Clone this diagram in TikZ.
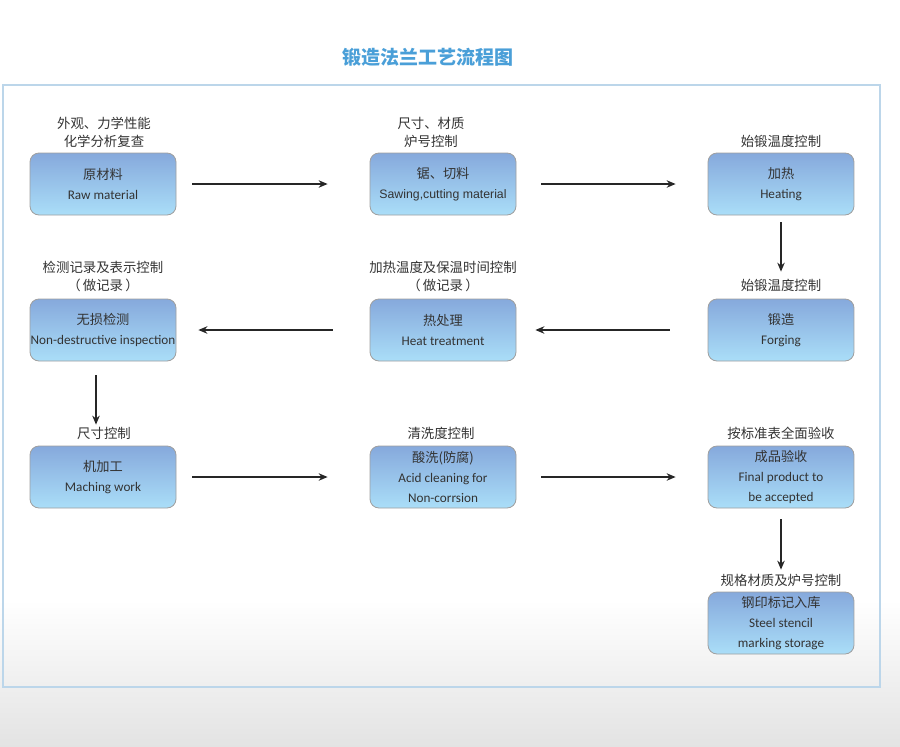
\documentclass[tikz,border=0pt]{standalone}
\usepackage{fontspec}
\setmainfont{Carlito}
\newfontfamily\cjk{Noto Sans CJK SC}
\newfontfamily\arial{Liberation Sans}
\usepackage{tikz}
\usetikzlibrary{arrows,arrows.meta,positioning,shapes,calc,backgrounds}
\definecolor{boxtop}{HTML}{86A9DC}
\definecolor{boxbot}{HTML}{AADEF8}
\definecolor{framec}{HTML}{BCD6EA}
\definecolor{titlec}{HTML}{4A9FD8}
\definecolor{textc}{HTML}{333333}

\begin{document}
\begin{tikzpicture}[x=1pt,y=-1pt,>={Stealth[length=9pt,width=7.5pt]},
                proc node/.style={rectangle,rounded corners=9pt,draw=gray!75,line width=0.8pt,
                  minimum width=146pt,minimum height=62pt,inner sep=0pt,
                  top color=boxtop,bottom color=boxbot,align=center,text=textc,
                  font=\fontsize{13.2}{20}\selectfont},
                note/.style={align=center,text=textc,font=\cjk\fontsize{13.4}{18}\selectfont},
                flow/.style={->,line width=1.2pt,color=black!85}]
  \useasboundingbox (0,0) rectangle (900,747);
  \fill[white] (0,0) rectangle (900,600);
  \shade[top color=white,bottom color=black!11] (0,600) rectangle (900,747);
  \draw[framec,line width=1.3pt] (3,85) rectangle (880,687);

  \node[font=\cjk\bfseries\fontsize{19}{22}\selectfont,text=titlec] (title) at (428,57) {锻造法兰工艺流程图};

  \node[proc node] (raw) at (103,184) {{\cjk 原材料}\\Raw material};
  \node[proc node] (saw) at (443,184) {{\cjk 锯、切料}\\{\arial\fontsize{12.3}{17}\selectfont Sawing,cutting material}};
  \node[proc node] (heat) at (781,184) {{\cjk 加热}\\Heating};
  \node[proc node] (ndt) at (103,330) {{\cjk 无损检测}\\Non-destructive inspection};
  \node[proc node] (ht) at (443,330) {{\cjk 热处理}\\Heat treatment};
  \node[proc node] (forge) at (781,330) {{\cjk 锻造}\\Forging};
  \node[proc node] (mach) at (103,477) {{\cjk 机加工}\\Maching work};
  \node[proc node] (acid) at (443,477) {{\cjk 酸洗(防腐)}\\Acid cleaning for\\Non-corrsion};
  \node[proc node] (final) at (781,477) {{\cjk 成品验收}\\Final product to\\be accepted};
  \node[proc node] (steel) at (781,623) {{\cjk 钢印标记入库}\\Steel stencil\\marking storage};

  % control notes
  \node[note] (rawnote) at (104,132) {外观、力学性能\\化学分析复查};
  \node[note] (sawnote) at (431,132) {尺寸、材质\\炉号控制};
  \node[note] (heatnote) at (781,141) {始锻温度控制};
  \node[note] (ndtnote) at (103,276) {检测记录及表示控制\\（\,做记录\,）};
  \node[note] (htnote) at (443,276) {加热温度及保温时间控制\\（\,做记录\,）};
  \node[note] (forgenote) at (781,285) {始锻温度控制};
  \node[note] (machnote) at (104,433) {尺寸控制};
  \node[note] (acidnote) at (441,433) {清洗度控制};
  \node[note] (finalnote) at (781,433) {按标准表全面验收};
  \node[note] (steelnote) at (781,580) {规格材质及炉号控制};

  \path[flow]
    (raw) edge [shorten <=16pt,shorten >=42pt] (saw)
    (saw) edge [shorten <=25pt,shorten >=32pt] (heat)
    (heat) edge [shorten <=7pt,shorten >=27pt] (forge)
    (forge) edge [shorten <=38pt,shorten >=19pt] (ht)
    (ht) edge [shorten <=37pt,shorten >=22pt] (ndt)
    ([xshift=-7pt]ndt.south) edge [shorten <=14pt,shorten >=21pt] ([xshift=-7pt]mach.north)
    (mach) edge [shorten <=16pt,shorten >=42pt] (acid)
    (acid) edge [shorten <=25pt,shorten >=32pt] (final)
    (final) edge [shorten <=11pt,shorten >=22pt] (steel)
  ;
\end{tikzpicture}
\end{document}
